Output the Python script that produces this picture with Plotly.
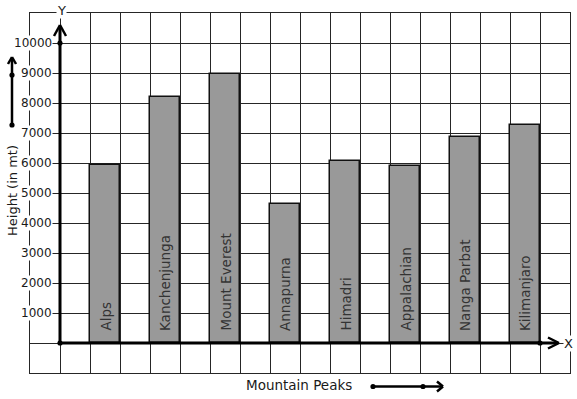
import plotly.graph_objects as go

# ---- data ----
peaks = ["Alps", "Kanchenjunga", "Mount Everest", "Annapurna", "Himadri",
         "Appalachian", "Nanga Parbat", "Kilimanjaro"]
heights = [5930, 8190, 8960, 4630, 6060, 5900, 6860, 7260]
y_ticks = [1000, 2000, 3000, 4000, 5000, 6000, 7000, 8000, 9000, 10000]

W, H = 577, 399
L, R, T, B = 30, 7, 13, 26
PW, PH = W - L - R, H - T - B

FONT = "DejaVu Sans"
GRID = "#262626"

def px(x):
    return (x - L) / PW

def py(y):
    return (T + PH - y) / PH

xpos = [2 * i + 1.5 for i in range(len(peaks))]

fig = go.Figure()
fig.add_trace(go.Bar(
    x=xpos, y=heights, width=1,
    marker=dict(color="#999999", line=dict(color="#111111", width=1.5)),
    hoverinfo="skip", showlegend=False,
))

shapes = []
annotations = []

def seg(x0, y0, x1, y1, w=3):
    shapes.append(dict(type="line", xref="paper", yref="paper",
                       x0=px(x0), y0=py(y0), x1=px(x1), y1=py(y1),
                       line=dict(color="black", width=w), layer="above"))

def dot(x, y, r=2.6):
    shapes.append(dict(type="circle", xref="paper", yref="paper",
                       x0=px(x - r), x1=px(x + r), y0=py(y - r), y1=py(y + r),
                       fillcolor="black", line=dict(color="black", width=0), layer="above"))

# axes with arrows
seg(60, 343, 60, 26)
seg(54, 36, 60, 25, 2.5); seg(66, 36, 60, 25, 2.5)
dot(60, 43); dot(60, 343)
seg(60, 343, 558, 343)
seg(548, 337.5, 559, 343, 2.5); seg(548, 348.5, 559, 343, 2.5)
dot(540, 343)

# left decorative arrow
seg(12, 125, 12, 58, 2.5)
seg(8, 64, 12, 57, 2.5); seg(16, 64, 12, 57, 2.5)
dot(12, 75); dot(12, 125)

# bottom decorative arrow
seg(373, 386.5, 442, 386.5, 2.5)
seg(437, 381.5, 443, 386.5, 2.5); seg(437, 391.5, 443, 386.5, 2.5)
dot(373, 386.5); dot(423, 386.5)

# y tick labels
for v in y_ticks:
    annotations.append(dict(x=0, y=v, xref="x", yref="y", text=str(v),
                            showarrow=False, xanchor="right", yanchor="middle",
                            xshift=-7, bgcolor="white", borderpad=0,
                            font=dict(family=FONT, size=12, color="#1a1a1a")))

# bar labels
for xp, name in zip(xpos, peaks):
    annotations.append(dict(x=xp, y=0, xref="x", yref="y", text=name,
                            showarrow=False, textangle=-90,
                            xanchor="center", yanchor="bottom", yshift=10,
                            font=dict(family=FONT, size=13.5, color="#333333")))

# axis letters
annotations.append(dict(x=px(61), y=py(10), xref="paper", yref="paper", text="Y",
                        showarrow=False, xanchor="center", yanchor="middle",
                        bgcolor="white", borderpad=0,
                        font=dict(family=FONT, size=13, color="#1a1a1a")))
annotations.append(dict(x=px(568), y=py(343), xref="paper", yref="paper", text="X",
                        showarrow=False, xanchor="center", yanchor="middle",
                        bgcolor="white", borderpad=0,
                        font=dict(family=FONT, size=13, color="#1a1a1a")))

# titles
annotations.append(dict(x=px(12), y=py(191), xref="paper", yref="paper",
                        text="Height (in mt)", showarrow=False, textangle=-90,
                        xanchor="center", yanchor="middle",
                        font=dict(family=FONT, size=13, color="#1a1a1a")))
annotations.append(dict(x=px(298.5), y=py(385), xref="paper", yref="paper",
                        text="Mountain Peaks", showarrow=False,
                        xanchor="center", yanchor="middle",
                        font=dict(family=FONT, size=13.5, color="#1a1a1a")))

fig.update_layout(
    width=W, height=H,
    margin=dict(l=L, r=R, t=T, b=B, pad=0),
    paper_bgcolor="white", plot_bgcolor="white",
    xaxis=dict(range=[-1, 17], dtick=1, tick0=0, showgrid=True, gridcolor=GRID,
               gridwidth=1, zeroline=False, showticklabels=False, ticks="",
               showline=True, mirror=True, linecolor=GRID, linewidth=1,
               fixedrange=True),
    yaxis=dict(range=[-1000, 11000], dtick=1000, tick0=0, showgrid=True,
               gridcolor=GRID, gridwidth=1, zeroline=False, showticklabels=False,
               ticks="", showline=True, mirror=True, linecolor=GRID, linewidth=1,
               fixedrange=True),
    shapes=shapes, annotations=annotations,
    bargap=0, showlegend=False,
)

fig.write_html("out.html", config={"displayModeBar": False},
               post_script="document.body.style.margin='0';document.body.style.overflow='hidden';")
